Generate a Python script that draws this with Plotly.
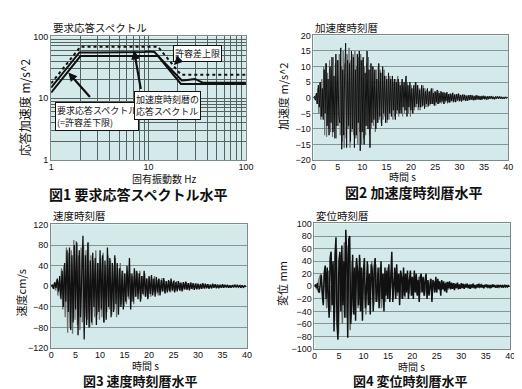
import math
import plotly.graph_objects as go

W, H = 522, 389

# ---------------- Figure 1: response spectrum ----------------
spec_freq = [1, 2, 12.5, 21.5, 100]
spec_required = [12.3, 48, 48, 17, 17]          # 要求応答スペクトル (=許容差下限)
spec_upper = [17.4, 68, 68, 24, 24]             # 許容差上限
resp_freq = [1, 1.3, 1.6, 1.95, 3, 5, 7, 8, 9, 10, 11.5, 15, 22, 25, 30, 36, 50, 100]
resp_vals = [14.8, 25, 37, 55, 55, 55, 55.5, 55, 56, 57, 56, 36, 19.4, 19.8, 20.5, 17.8, 17.8, 17.8]
log_tickvals = [1, 2, 3, 4, 5, 6, 7, 8, 9, 10, 20, 30, 40, 50, 60, 70, 80, 90, 100]
log_ticktext = ["1", "", "", "", "", "", "", "", "", "10", "", "", "", "", "", "", "", "", "100"]

# ---------------- Figure 2: acceleration (m/s^2) ----------------
acc_dt = 0.2
acc_black = [
    0, 0.5, -0.8, 1.5, -2, 4, -3, 5, -6, 3,
    -7, 9, -5, 11, -9, 6, -12, 10, -8, 13,
    -11, 7, -13, 14, -9, 12, -6, -8, 16, -16.5,
    9, -12, 8, 17.5, -16, 12, -9, 11, -14, 15,
    -10, 13, -16, 9, -12, 14, -8, 15, -17, 12,
    -11, 13, -15, 8, -9, 15, -10, 9, -16, 11,
    -8, 10, -7, 9, -10, 6, -8, 11, -6, 8,
    -9, 10, -5, 7, -8, 6, -7, 8, -5, 6,
    -6, 7, -4, 6, -7, 5, -4, 6, -5, 4,
    -5, 6, -3, 5, -4, 7, -6, 4, -3, 5,
    -4, 3, -5, 4, -3, 5, -2, 4, -3, 2.5,
    -3, 4, -2.5, 3, -3.5, 2, -2, 3, -2.5, 2,
    -2, 3, -2, 1.5, -2.5, 2, -1.5, 2.5, -2, 1.5,
    -1.5, 2, -1.2, 1.8, -2, 1.5, -1, 1.8, -1.5, 1.2,
    -1.5, 1.2, -1, 1.6, -1.3, 1, -1.4, 1.2, -0.8, 1.3,
    -1, 0.8, -1.2, 1, -0.7, 0.9, -1, 0.6, -0.9, 0.8,
    -0.7, 0.9, -0.6, 0.7, -0.8, 0.5, -0.7, 0.8, -0.5, 0.6,
    -0.6, 0.5, -0.7, 0.6, -0.4, 0.6, -0.5, 0.4, -0.6, 0.5,
    -0.4, 0.5, -0.3, 0.5, -0.4, 0.3, -0.5, 0.4, -0.3, 0.4,
    -0.3, 0.4, -0.3, 0.3, -0.4, 0.2, -0.3, 0.3, -0.2, 0.2,
]
acc_gray = [
    0.3, -0.6, 1, -2, 3, -5, 5, -7, 6, -6,
    10, -12, 11, -12.5, 8, -10, 12, -11, 9, -12.5,
    13, -10, 11, -13, 12, -9, 14, -12, 10, -14,
    15, -16, 11, -13, 14, -10, 16, -16, 12, -11,
    14, -12, 15, -13, 10, -15, 13, -11, 14, -15,
    12, -13, 10, -12, 11, -9, 13, -12, 9, -10,
    10, -9, 8, -11, 9, -8, 10, -7, 9, -8,
    8, -7, 9, -6, 7, -8, 6, -7, 7, -5,
    6, -7, 5, -6, 6, -5, 7, -6, 5, -4,
    5, -6, 4, -5, 6, -4, 5, -5, 4, -6,
    4, -5, 3, -4, 5, -3, 4, -4, 3, -4,
    3, -3, 4, -2.5, 3, -3, 2.5, -3, 2, -2.5,
    2.5, -2, 3, -2, 2, -2.5, 1.8, -2, 2.2, -1.8,
    2, -1.8, 1.5, -2, 1.8, -1.5, 1.6, -1.8, 1.2, -1.5,
    1.5, -1.2, 1.4, -1.5, 1, -1.3, 1.2, -1, 1.3, -1.2,
    1, -1.1, 0.9, -1, 1.1, -0.8, 0.9, -1, 0.7, -0.9,
    0.8, -0.7, 0.9, -0.6, 0.7, -0.8, 0.6, -0.7, 0.8, -0.6,
    0.6, -0.7, 0.5, -0.6, 0.7, -0.5, 0.6, -0.5, 0.4, -0.6,
    0.5, -0.4, 0.6, -0.5, 0.4, -0.5, 0.3, -0.4, 0.5, -0.3,
    0.4, -0.3, 0.4, -0.3, 0.3, -0.4, 0.3, -0.2, 0.3, -0.2,
]

# ---------------- Figure 3: velocity (cm/s) ----------------
vel_dt = 0.25
vel_black = [
    0, 3, -5, 8, -3, 15, -10, 20,
    -25, 30, -40, 45, -30, 70, -50, 75,
    -85, 60, -70, 80, -45, 85, -95, 70,
    -60, 40, 98, -103, 60, -75, 85, -80,
    50, -70, 65, -40, 55, -75, 45, -50,
    70, -45, 60, -70, 50, -65, 75, -40,
    55, -60, 45, -50, 60, -35, 45, -55,
    35, -40, 30, -45, 25, -30, 40, -20,
    55, -45, 25, -30, 35, -20, 30, -25,
    25, -30, 20, -15, 30, -20, 15, -25,
    20, -15, 22, -18, 15, -20, 18, -12,
    15, -18, 12, -10, 16, -14, 10, -12,
    12, -10, 15, -8, 10, -12, 8, -10,
    10, -8, 7, -10, 8, -6, 9, -7,
    6, -8, 7, -5, 6, -7, 5, -6,
    5, -6, 4, -5, 6, -4, 5, -4,
    4, -5, 3, -4, 5, -3, 4, -4,
    3, -4, 3, -3, 4, -3, 3, -2,
    3, -3, 2, -3, 2, -2, 3, -2,
    2, -2, 2, -3, 2, -2, 1, -1,
]
vel_gray = [
    2, -4, 6, -8, 12, -18, 10, -20,
    35, -45, 40, -60, 75, -90, 65, -80,
    70, -92, 90, -65, 88, -75, 60, -85,
    75, -70, 80, -60, 70, -65, 85, -80,
    60, -75, 50, -60, 70, -55, 45, -65,
    55, -60, 65, -70, 40, -50, 60, -45,
    50, -55, 40, -45, 55, -60, 35, -40,
    45, -35, 30, -40, 25, -35, 30, -25,
    25, -30, 20, -35, 30, -20, 25, -15,
    30, -25, 20, -18, 25, -20, 15, -22,
    18, -20, 15, -12, 20, -15, 12, -18,
    14, -12, 16, -10, 12, -14, 10, -8,
    10, -12, 8, -10, 12, -8, 10, -6,
    8, -9, 6, -8, 7, -6, 8, -5,
    6, -5, 7, -6, 5, -4, 6, -5,
    4, -5, 5, -4, 3, -5, 4, -3,
    4, -3, 3, -4, 3, -2, 4, -3,
    3, -3, 2, -3, 3, -2, 2, -3,
    2, -3, 2, -2, 3, -2, 2, -1,
    2, -1, 2, -2, 1, -2, 1, -1,
]

# ---------------- Figure 4: displacement (mm) ----------------
disp_dt_black = 0.2
disp_black = [
    0, 3, -2, 5, -8, -10, 5, 18, -10, -30,
    20, 33, -20, 30, -15, -50, 45, 55, -30, 40,
    -72, 50, 78, -60, -85, 40, 55, -40, 65, -30,
    40, -50, 90, 45, -82, 75, 80, -60, -30, 50,
    -45, 30, -55, 45, 25, -30, 50, -40, 30, -55,
    25, 45, -35, -10, 40, -30, 20, -45, 35, 25,
    -40, 30, 45, -25, -10, 30, -35, 25, 40, -20,
    20, -40, 30, -15, 25, -20, 35, -25, 10, 55,
    -25, 15, 30, -20, 35, -10, 20, -30, 25, 15,
    -20, 30, -15, 20, -10, 25, -20, 10, 25, -15,
    15, -20, 25, -10, 20, -15, 10, -25, 15, 20,
    -10, 15, -15, 10, 20, -20, 10, -15, 5, 12,
    -25, 10, 5, -10, 15, -10, 12, -5, 8, -15,
    10, -5, 8, -8, 5, -10, 7, -3, 8, -5,
    6, -4, 5, -6, 4, -3, 6, -5, 3, -4,
    5, -3, 4, -4, 3, -2, 4, -3, 2, -4,
    3, -2, 4, -3, 2, -3, 3, -2, 4, -2,
    3, -2, 2, -3, 2, -1, 3, -2, 2, -3,
    2, -2, 3, -1, 2, -2, 1, -2, 2, -1,
    2, -1, 1, -2, 2, -1, 1, -1, 2, -1,
]
disp_dt_gray = 0.4
disp_gray = [
    2, -5, 10, 20, -25, 30, -35, 25, -40, 35,
    -55, 60, -75, 50, -60, 70, -50, 65, -70, 40,
    -45, 40, -35, 45, -40, 30, -45, 35, -30, 40,
    -30, 35, -25, 30, -35, 20, -25, 30, -20, 25,
    -20, 25, -15, 20, -20, 15, -18, 20, -12, 15,
    -15, 18, -12, 15, -10, 12, -15, 10, -8, 12,
    -10, 8, -6, 9, -7, 5, -6, 7, -5, 4,
    -4, 5, -3, 4, -4, 3, -3, 4, -2, 3,
    -3, 2, -3, 2, -2, 3, -2, 2, -2, 1,
    -2, 2, -1, 2, -2, 1, -1, 2, -1, 1,
]

time_ticks = [0, 5, 10, 15, 20, 25, 30, 35, 40]

# ---------------- styling ----------------
BG = "#d4eaea"
GRID_LOG = "#56625f"
GRID_T = "#869494"
FRAME = "#7d8a8a"
GRAY = "#6f6f6f"
BLACK = "#111111"
CJK = "Noto Sans CJK JP"
TICKFONT = dict(family="Liberation Sans, Arial", size=9, color="#111")


def dx(a, b):
    return [a / W, b / W]


def dy(top, bottom):
    return [1 - bottom / H, 1 - top / H]


fig = go.Figure()

# Fig 1 traces
fig.add_trace(go.Scatter(x=spec_freq, y=spec_upper, mode="lines",
                         line=dict(color=BLACK, width=2, dash="dot"),
                         xaxis="x", yaxis="y", showlegend=False))
fig.add_trace(go.Scatter(x=resp_freq, y=resp_vals, mode="lines",
                         line=dict(color=BLACK, width=2),
                         xaxis="x", yaxis="y", showlegend=False))
fig.add_trace(go.Scatter(x=spec_freq, y=spec_required, mode="lines",
                         line=dict(color=BLACK, width=2),
                         xaxis="x", yaxis="y", showlegend=False))

# Fig 2 traces
fig.add_trace(go.Scatter(y=acc_gray, x0=0.1, dx=acc_dt, mode="lines",
                         line=dict(color=GRAY, width=1),
                         xaxis="x2", yaxis="y2", showlegend=False))
fig.add_trace(go.Scatter(y=acc_black, x0=0, dx=acc_dt, mode="lines",
                         line=dict(color=BLACK, width=1),
                         xaxis="x2", yaxis="y2", showlegend=False))

# Fig 3 traces
fig.add_trace(go.Scatter(y=vel_gray, x0=0.125, dx=vel_dt, mode="lines",
                         line=dict(color=GRAY, width=1.3),
                         xaxis="x3", yaxis="y3", showlegend=False))
fig.add_trace(go.Scatter(y=vel_black, x0=0, dx=vel_dt, mode="lines",
                         line=dict(color=BLACK, width=1.3),
                         xaxis="x3", yaxis="y3", showlegend=False))

# Fig 4 traces
fig.add_trace(go.Scatter(y=disp_gray, x0=0.1, dx=disp_dt_gray, mode="lines",
                         line=dict(color=GRAY, width=1.5),
                         xaxis="x4", yaxis="y4", showlegend=False))
fig.add_trace(go.Scatter(y=disp_black, x0=0, dx=disp_dt_black, mode="lines",
                         line=dict(color=BLACK, width=1.5),
                         xaxis="x4", yaxis="y4", showlegend=False))

common_axis = dict(showline=True, mirror=True, linecolor=FRAME, linewidth=1,
                   ticks="", tickfont=TICKFONT, zeroline=False)

fig.update_layout(
    width=W, height=H,
    margin=dict(l=0, r=0, t=0, b=0),
    paper_bgcolor="white",
    plot_bgcolor=BG,
    xaxis=dict(domain=dx(41, 240), type="log", range=[0, 2], anchor="y",
               tickvals=log_tickvals, ticktext=log_ticktext, ticklabelstandoff=-2,
               showgrid=True, gridcolor=GRID_LOG, gridwidth=1, **common_axis),
    yaxis=dict(domain=dy(24, 151), type="log", range=[0, 2], anchor="x",
               tickvals=log_tickvals, ticktext=log_ticktext,
               showgrid=True, gridcolor=GRID_LOG, gridwidth=1, **common_axis),
    xaxis2=dict(domain=dx(309, 508), range=[0, 40], tickvals=time_ticks, anchor="y2",
                ticklabelstandoff=-2, showgrid=False, **common_axis),
    yaxis2=dict(domain=dy(23, 151), range=[-20, 20], dtick=5, anchor="x2",
                showgrid=True, gridcolor=GRID_T, **common_axis),
    xaxis3=dict(domain=dx(41, 241), range=[0, 40], tickvals=time_ticks, anchor="y3",
                ticklabelstandoff=-2, showgrid=False, **common_axis),
    yaxis3=dict(domain=dy(217, 344), range=[-120, 120], dtick=40, anchor="x3",
                showgrid=True, gridcolor=GRID_T, **common_axis),
    xaxis4=dict(domain=dx(310, 510), range=[0, 40], tickvals=time_ticks, anchor="y4",
                ticklabelstandoff=-2, showgrid=False, **common_axis),
    yaxis4=dict(domain=dy(216, 345), range=[-100, 100], dtick=20, anchor="x4",
                showgrid=True, gridcolor=GRID_T, **common_axis),
)

ann = []


def text_at(txt, px, py, size, xanchor="center", bold=False, angle=0, yanchor="middle"):
    if bold:
        txt = "<b>" + txt + "</b>"
    ann.append(dict(text=txt, x=px / W, y=1 - py / H, xref="paper", yref="paper",
                    xanchor=xanchor, yanchor=yanchor, showarrow=False, textangle=angle,
                    font=dict(family=CJK, size=size, color="#111")))


# chart titles
text_at("要求応答スペクトル", 41, 15, 10.5, xanchor="left")
text_at("加速度時刻暦", 309, 15, 10.5, xanchor="left")
text_at("速度時刻暦", 41, 208, 10.5, xanchor="left")
text_at("変位時刻暦", 310, 208, 10.5, xanchor="left")

# x-axis titles
text_at("固有振動数 Hz", 157, 170, 10)
text_at("時間 s", 400, 168, 10)
text_at("時間 s", 137, 362, 10)
text_at("時間 s", 409, 363, 10)

# y-axis titles
text_at("応答加速度 m/s^2", 14, 97, 12, angle=-90)
text_at("加速度 m/s^2", 278, 86, 11, angle=-90)
text_at("速度cm/s", 10, 287, 11, angle=-90)
text_at("変位 mm", 277, 278, 11, angle=-90)

# captions
text_at("図1 要求応答スペクトル水平", 130, 186, 14, bold=True)
text_at("図2 加速度時刻暦水平", 411, 184, 14, bold=True)
text_at("図3 速度時刻暦水平", 132, 377, 13, bold=True)
text_at("図4 変位時刻暦水平", 408, 377, 13, bold=True)


# boxed labels in figure 1
def box_at(txt, left, top):
    ann.append(dict(text=txt, x=left / W, y=1 - top / H, xref="paper", yref="paper",
                    xanchor="left", yanchor="top", showarrow=False, align="left",
                    bgcolor="white", bordercolor="#111", borderwidth=1, borderpad=1,
                    font=dict(family=CJK, size=9, color="#111")))


box_at("許容差上限", 165, 33)
box_at("要求応答スペクトル<br>(=許容差下限)", 45, 91)
box_at("加速度時刻暦の<br>応答スペクトル", 126, 80)


# arrows (tip in data coordinates of figure 1, tail as pixel offset)
def arrow(f, v, axp, ayp):
    ann.append(dict(text="", x=math.log10(f), y=math.log10(v), xref="x", yref="y",
                    showarrow=True, arrowhead=2, arrowsize=0.8, arrowwidth=2.2,
                    arrowcolor="#111", ax=axp, ay=ayp, standoff=0))


arrow(18.2, 34.6, 7, -7)
arrow(1.5, 26, 23, 26)
arrow(7.1, 59, 7, 40)

fig.update_layout(annotations=ann)

fig.write_html("out.html")
